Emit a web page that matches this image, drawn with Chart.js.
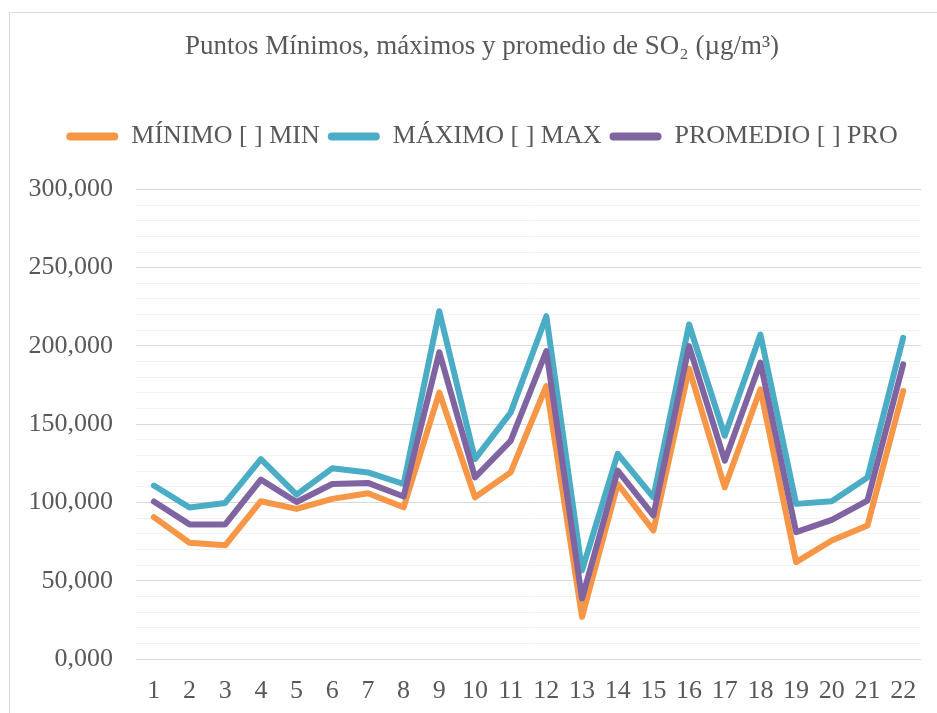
<!DOCTYPE html>
<html>
<head>
<meta charset="utf-8">
<script src="https://cdn.jsdelivr.net/npm/chart.js@4/dist/chart.umd.min.js"></script>
<style>
html,body{margin:0;padding:0;background:#fff;}
#wrap{width:937px;height:713px;position:relative;}
</style>
</head>
<body>
<div id="wrap"><canvas id="c" width="937" height="713"></canvas></div>
<script>
const categories = ['1','2','3','4','5','6','7','8','9','10','11','12','13','14','15','16','17','18','19','20','21','22'];
const minimo = [90.6, 74.3, 72.6, 100.8, 95.9, 102.3, 105.9, 96.9, 170.2, 103.3, 119.2, 174.4, 26.9, 111.8, 82.1, 185.5, 109.7, 172.3, 61.9, 75.7, 85.3, 171.2];
const maximo = [110.8, 96.8, 99.7, 127.7, 105.0, 121.8, 119.2, 111.8, 222.2, 127.7, 157.4, 219.0, 56.6, 131.0, 103.3, 213.7, 142.6, 207.3, 99.1, 100.8, 116.0, 205.2];
const promedio = [100.6, 86.0, 86.0, 114.6, 100.3, 111.8, 112.5, 103.8, 196.0, 116.0, 139.4, 196.7, 38.6, 120.3, 91.7, 199.9, 126.7, 189.3, 81.0, 88.9, 101.2, 188.2];
const seriesNames = ['MÍNIMO [ ] MIN', 'MÁXIMO [ ] MAX', 'PROMEDIO [ ] PRO'];
const seriesColors = ['#F79646', '#4BACC6', '#8064A2'];
const yTicks = [0, 50, 100, 150, 200, 250, 300];
const titleText = 'Puntos Mínimos, máximos y promedio de SO₂ (µg/m³)';

const FONT = "'Liberation Serif', 'Times New Roman', serif";
const TXT = '#595959';

const frame = {
  id: 'frame',
  beforeLayout(chart) {
    const lg = chart.legend;
    if (lg && !lg._patched) {
      const orig = lg.fit;
      lg.fit = function () { orig.call(this); this.height += 30; };
      lg._patched = true;
    }
  },
  afterLayout(chart) {
    if (chart.titleBlock) chart.titleBlock.left = 43;
    if (chart.legend) chart.legend.left = 43;
  },
  beforeDraw(chart) {
    const ctx = chart.ctx;
    ctx.save();
    ctx.fillStyle = '#fff';
    ctx.fillRect(0, 0, chart.width, chart.height);
    ctx.strokeStyle = '#d9d9d9';
    ctx.lineWidth = 1;
    ctx.strokeRect(9.5, 12.5, 960, 760);
    ctx.restore();
  }
};

const datasets = [minimo, maximo, promedio].map((d, i) => ({
  label: seriesNames[i],
  data: d,
  borderColor: seriesColors[i],
  backgroundColor: seriesColors[i],
  borderWidth: 6,
  pointRadius: 0,
  pointHoverRadius: 0,
  tension: 0,
  fill: false,
  borderCapStyle: 'round',
  borderJoinStyle: 'round',
  order: 3 - i
}));

new Chart(document.getElementById('c'), {
  type: 'line',
  data: { labels: categories, datasets },
  options: {
    responsive: false,
    animation: false,
    events: [],
    layout: { padding: { left: 0, right: 16, top: 0, bottom: 0 } },
    plugins: {
      tooltip: { enabled: false },
      title: {
        display: true,
        text: titleText,
        color: TXT,
        font: { family: FONT, size: 27, weight: 'normal' },
        padding: { top: 31, bottom: 52 }
      },
      legend: {
        display: true,
        position: 'top',
        labels: {
          color: TXT,
          font: { family: FONT, size: 26 },
          boxWidth: 52,
          boxHeight: 8,
          padding: 8,
          useBorderRadius: true,
          borderRadius: 4,
          generateLabels(chart) {
            return chart.data.datasets.map((ds, i) => ({
              text: ds.label,
              fillStyle: ds.borderColor,
              strokeStyle: ds.borderColor,
              lineWidth: 0,
              borderRadius: 4,
              fontColor: TXT,
              datasetIndex: i,
              hidden: false
            }));
          }
        }
      }
    },
    scales: {
      x: {
        offset: true,
        afterFit(scale) { scale.height = 54; },
        grid: { display: false, drawTicks: false },
        border: { display: false },
        ticks: {
          color: TXT,
          font: { family: FONT, size: 26 },
          padding: 17,
          maxRotation: 0,
          autoSkip: false
        }
      },
      y: {
        min: 0,
        max: 300,
        afterFit(scale) { scale.width = 136; },
        afterBuildTicks(scale) {
          const t = [];
          for (let v = 0; v <= 300; v += 10) t.push({ value: v });
          scale.ticks = t;
        },
        grid: {
          drawTicks: false,
          lineWidth: 1,
          color(ctx) {
            const v = ctx.tick ? ctx.tick.value : 0;
            return yTicks.includes(v) ? '#d9d9d9' : '#f2f2f2';
          }
        },
        border: { display: false },
        ticks: {
          color: TXT,
          font: { family: FONT, size: 26 },
          padding: 23,
          autoSkip: false,
          callback(v) {
            return yTicks.includes(v) ? v.toFixed(3).replace('.', ',') : '';
          }
        }
      }
    }
  },
  plugins: [frame]
});
</script>
</body>
</html>
